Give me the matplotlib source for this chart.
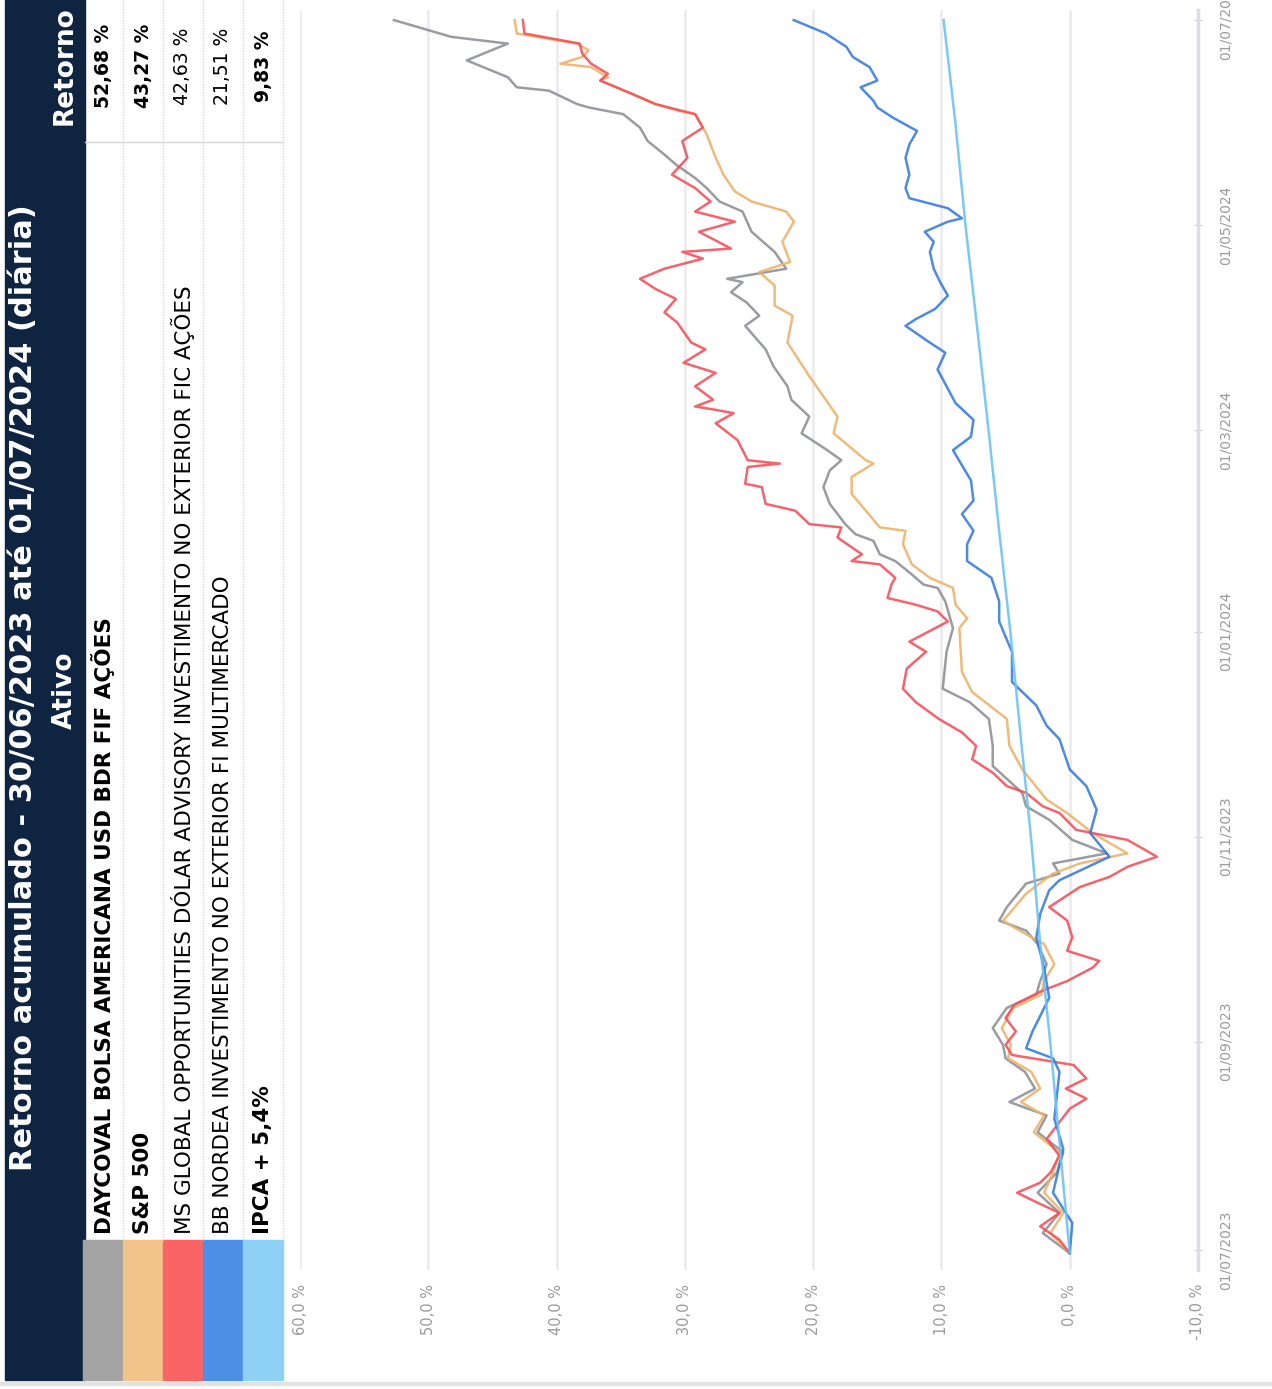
import numpy as np
import pandas as pd
import matplotlib
matplotlib.use('Agg')
import matplotlib.pyplot as plt
from matplotlib import font_manager
from matplotlib.patches import Rectangle
from matplotlib.ticker import FuncFormatter

# Dados (dias desde 30/06/2023, retorno acumulado em %)
start = pd.Timestamp('2023-06-30')

days_daycoval = [0, 6, 12, 18, 24, 30, 36, 41, 45, 49, 54, 58, 62, 67, 73, 77, 81, 86, 92, 96,
                 99, 103, 110, 113, 116, 119, 123, 129, 133, 137, 145, 151, 159, 164, 168, 179, 186, 194, 198, 199,
                 202, 206, 208, 212, 214, 217, 223, 228, 233, 236, 239, 244, 249, 254, 258, 264, 269, 276, 279, 283,
                 286, 289, 290, 293, 298, 304, 310, 313, 317, 320, 324, 327, 331, 335, 339, 341, 342, 346, 347, 350,
                 355, 360, 362, 367]
ret_daycoval = [0.0, 2.1, 0.8, 2.5, 1.0, 0.5, 2.5, 1.8, 4.7, 2.7, 3.5, 5.0, 5.2, 6.0, 4.9, 2.6, 2.3, 1.8, 2.5, 3.4,
                5.5, 4.9, 3.4, 0.8, 1.3, -2.9, -0.2, 1.6, 3.4, 3.7, 6.0, 6.0, 6.3, 7.8, 9.9, 9.6, 9.1, 9.7, 10.3, 11.4,
                12.3, 13.6, 14.8, 15.3, 16.7, 17.5, 18.7, 19.2, 18.7, 17.8, 18.9, 20.9, 20.3, 21.7, 22.0, 23.1, 23.7, 25.3, 24.2, 25.2,
                26.4, 25.5, 26.7, 22.1, 23.0, 24.8, 25.5, 27.3, 28.3, 29.2, 30.7, 31.6, 32.9, 33.5, 34.8, 37.5, 38.4, 40.6, 43.1, 43.8,
                47.0, 43.8, 48.2, 52.68]

days_sp500 = [0, 6, 12, 18, 24, 30, 36, 41, 45, 49, 54, 58, 62, 67, 73, 77, 81, 86, 92, 96,
              99, 102, 107, 113, 116, 119, 125, 131, 135, 144, 151, 159, 167, 173, 186, 189, 193, 198, 201, 205,
              211, 215, 216, 221, 226, 231, 235, 236, 244, 249, 255, 261, 271, 279, 282, 288, 292, 295, 301, 307,
              310, 313, 316, 321, 327, 333, 339, 340, 342, 345, 349, 350, 353, 354, 356, 358, 360, 363, 367]
ret_sp500 = [0.0, 1.5, 0.5, 2.0, 1.3, 0.8, 2.8, 2.0, 3.8, 2.3, 3.0, 4.8, 4.6, 5.3, 4.4, 2.2, 2.0, 1.2, 2.0, 3.9,
             5.2, 4.5, 3.4, 1.3, -0.8, -4.5, -1.8, 0.2, 1.8, 3.7, 4.7, 4.9, 7.6, 8.4, 8.6, 8.0, 8.9, 9.1, 10.9, 12.3,
             13.0, 12.8, 14.8, 15.9, 17.0, 17.0, 15.3, 15.9, 18.4, 18.1, 19.2, 20.3, 22.0, 21.6, 23.0, 23.0, 24.2, 21.8, 22.4, 21.5,
             22.1, 24.8, 26.1, 27.0, 27.7, 28.3, 29.2, 30.5, 32.3, 34.1, 36.6, 36.0, 37.3, 39.7, 38.0, 37.5, 38.4, 43.1, 43.27]

days_ms = [0, 4, 8, 12, 15, 18, 21, 24, 29, 34, 38, 43, 46, 49, 52, 56, 59, 62, 66, 70,
           74, 78, 81, 85, 87, 90, 94, 99, 103, 105, 109, 112, 115, 118, 123, 126, 131, 133, 137, 139,
           143, 147, 151, 155, 159, 164, 168, 174, 179, 182, 188, 191, 193, 195, 199, 201, 205, 206, 208, 213,
           216, 217, 221, 223, 228, 229, 234, 235, 236, 242, 247, 250, 251, 252, 254, 258, 262, 265, 269, 271,
           277, 280, 284, 287, 290, 293, 296, 298, 299, 304, 307, 310, 313, 317, 321, 326, 331, 335, 339, 342,
           345, 349, 351, 354, 357, 360, 363, 367]
ret_ms = [0.0, 0.8, 2.3, 0.8, 2.5, 4.1, 2.3, 1.5, 0.8, 1.8, 1.0, 0.0, -1.3, 0.3, -1.3, -0.3, 4.5, 5.0, 4.2, 5.0,
          4.3, 2.2, 0.2, -1.8, -2.3, 0.2, -0.2, 0.2, 1.6, 0.8, -0.8, -3.1, -4.5, -6.8, -4.5, -0.5, 0.8, 2.1, 3.4, 4.9,
          6.0, 7.6, 7.3, 8.4, 10.2, 12.0, 13.0, 12.7, 11.2, 12.5, 9.5, 10.3, 12.0, 14.2, 13.9, 13.6, 14.8, 17.0, 16.2, 18.1,
          17.8, 20.3, 21.4, 23.7, 24.0, 25.3, 25.1, 22.6, 25.1, 25.9, 27.6, 26.2, 27.6, 29.2, 27.8, 29.2, 27.6, 30.1, 28.4, 29.5,
          30.6, 31.6, 30.7, 32.3, 33.5, 31.6, 28.6, 30.2, 26.4, 28.9, 26.1, 29.2, 28.0, 29.2, 31.0, 29.8, 30.2, 28.6, 29.2, 32.3,
          34.1, 36.6, 36.0, 37.3, 38.0, 38.2, 42.5, 42.63]

days_bb = [0, 9, 18, 31, 40, 54, 58, 61, 66, 76, 85, 94, 101, 108, 111, 118, 125, 132, 139, 144,
           153, 157, 163, 170, 179, 188, 194, 201, 206, 211, 215, 220, 224, 230, 239, 243, 248, 253, 263, 268,
           271, 276, 278, 281, 285, 289, 293, 298, 301, 304, 307, 308, 311, 314, 317, 321, 326, 330, 334, 338,
           341, 343, 347, 349, 353, 356, 359, 363, 367]
ret_bb = [0.0, -0.2, 1.3, 0.5, 1.2, 0.8, 1.3, 3.4, 2.9, 1.6, 2.0, 2.6, 2.3, 1.6, 0.8, -3.1, -1.6, -2.1, -1.3, 0.0,
          0.8, 1.8, 2.6, 4.5, 4.5, 5.5, 5.5, 6.1, 8.0, 8.0, 7.5, 8.4, 7.5, 7.7, 9.1, 7.7, 7.5, 8.9, 10.3, 9.7,
          10.9, 12.8, 12.0, 10.5, 9.5, 10.1, 10.6, 10.9, 10.6, 11.3, 9.5, 8.4, 9.5, 12.5, 12.8, 12.5, 12.8, 12.5, 11.9, 13.8,
          15.0, 15.3, 16.3, 15.0, 15.6, 16.9, 17.4, 19.0, 21.51]

days_ipca = [0, 31, 62, 92, 123, 153, 184, 215, 244, 275, 305, 336, 367]
ret_ipca = [0.0, 0.75, 1.5, 2.3, 3.0, 3.8, 4.6, 5.5, 6.3, 7.2, 8.1, 8.9, 9.83]

ativos = ['DAYCOVAL BOLSA AMERICANA USD BDR FIF AÇÕES', 'S&P 500',
          'MS GLOBAL OPPORTUNITIES DÓLAR ADVISORY INVESTIMENTO NO EXTERIOR FIC AÇÕES',
          'BB NORDEA INVESTIMENTO NO EXTERIOR FI MULTIMERCADO', 'IPCA + 5,4%']
retornos = ['52,68 %', '43,27 %', '42,63 %', '21,51 %', '9,83 %']
negrito = [True, True, False, False, True]
swatch_colors = ['#a3a3a3', '#f2c38a', '#fb6464', '#4d8fe6', '#8fd0f5']
line_colors = ['#8e9196', '#ecb46c', '#f4525c', '#3b7ddd', '#6cc3f2']

date_ticks = ['2023-07-01', '2023-09-01', '2023-11-01', '2024-01-01', '2024-03-01', '2024-05-01', '2024-07-01']
value_ticks = [-10, 0, 10, 20, 30, 40, 50, 60]

series = [(days_daycoval, ret_daycoval), (days_sp500, ret_sp500), (days_ms, ret_ms),
          (days_bb, ret_bb), (days_ipca, ret_ipca)]

# fontes
names = {f.name for f in font_manager.fontManager.ttflist}
if 'Liberation Sans Narrow' in names:
    row_font, row_fs, val_fs, title_fs, head_fs = 'Liberation Sans Narrow', 20, 17, 29, 24
else:
    row_font, row_fs, val_fs, title_fs, head_fs = 'DejaVu Sans', 15.5, 13.5, 22, 19

W, H = 1272, 1389
fig = plt.figure(figsize=(W / 100, H / 100), dpi=100)

# camada de fundo em pixels para cabeçalho e tabela
bg = fig.add_axes([0, 0, 1, 1], zorder=0)
bg.set_xlim(0, W)
bg.set_ylim(H, 0)
bg.axis('off')

bg.add_patch(Rectangle((5, 0), 80, 1380, color='#0f2440'))
bg.text(24, 688, 'Retorno acumulado - 30/06/2023 até 01/07/2024 (diária)', rotation=90,
        color='white', fontsize=title_fs, fontweight='bold', family=row_font, ha='center', va='center')
bg.text(65, 690, 'Ativo', rotation=90, color='white', fontsize=head_fs, fontweight='bold',
        family=row_font, ha='center', va='center')
bg.text(65, 66, 'Retorno', rotation=90, color='white', fontsize=head_fs, fontweight='bold',
        family=row_font, ha='center', va='center')

for i, (nome, ret, bold, sc) in enumerate(zip(ativos, retornos, negrito, swatch_colors)):
    x0 = 83 + 40 * i
    bg.add_patch(Rectangle((x0, 1240), 40, 140, color=sc))
    bg.plot([x0 + 40, x0 + 40], [0, 1240], color='#d6d6d6', lw=1, ls=(0, (1, 1)))
    w = 'bold' if bold else 'normal'
    bg.text(x0 + 20, 1234, nome, rotation=90, fontsize=row_fs, family=row_font, fontweight=w,
            color='black', ha='center', va='bottom')
    bg.text(x0 + 20, 66, ret, rotation=90, fontsize=val_fs, family=row_font, fontweight=w,
            color='black', ha='center', va='center')
bg.plot([85, 282], [142, 142], color='#d6d6d6', lw=1)
bg.plot([0, W], [1384, 1384], color='#e2e2e2', lw=3)

# gráfico de linhas (rotacionado: retorno na horizontal, data na vertical)
ax = fig.add_axes([300 / W, 1 - 1270 / H, 898 / W, 1260 / H], zorder=1)
ax.patch.set_alpha(0)
for (d, r), c in zip(series, line_colors):
    dates = start + pd.to_timedelta(d, unit='D')
    ax.plot(r, dates, color=c, lw=1.8, alpha=0.9, zorder=3)

ax.set_xlim(60, -10)
ax.set_ylim(start - pd.Timedelta(days=5), start + pd.Timedelta(days=370))
ax.set_xticks(value_ticks)
ax.xaxis.set_major_formatter(FuncFormatter(lambda v, p: f'{v:.1f} %'.replace('.', ',')))
ax.grid(axis='x', color='#ececec', lw=2)
ax.set_axisbelow(True)

ticks = pd.to_datetime(date_ticks)
ax.set_yticks(ticks)
ax.set_yticklabels([t.strftime('%d/%m/%Y') for t in ticks])
ax.yaxis.tick_right()

for s in ['left', 'top', 'bottom']:
    ax.spines[s].set_visible(False)
ax.spines['right'].set_color('#dcdcea')
ax.spines['right'].set_linewidth(2.5)

ax.tick_params(axis='x', length=0, pad=10, labelsize=10.5, labelcolor='#9a9a9a', labelrotation=90)
ax.tick_params(axis='y', length=6, direction='inout', color='#cfcfcf', pad=12,
               labelsize=10, labelcolor='#9a9a9a', labelrotation=90)
for lab in ax.get_yticklabels():
    lab.set_va('center')
    lab.set_ha('left')

fig.savefig('out.png', dpi=100, facecolor='white')
